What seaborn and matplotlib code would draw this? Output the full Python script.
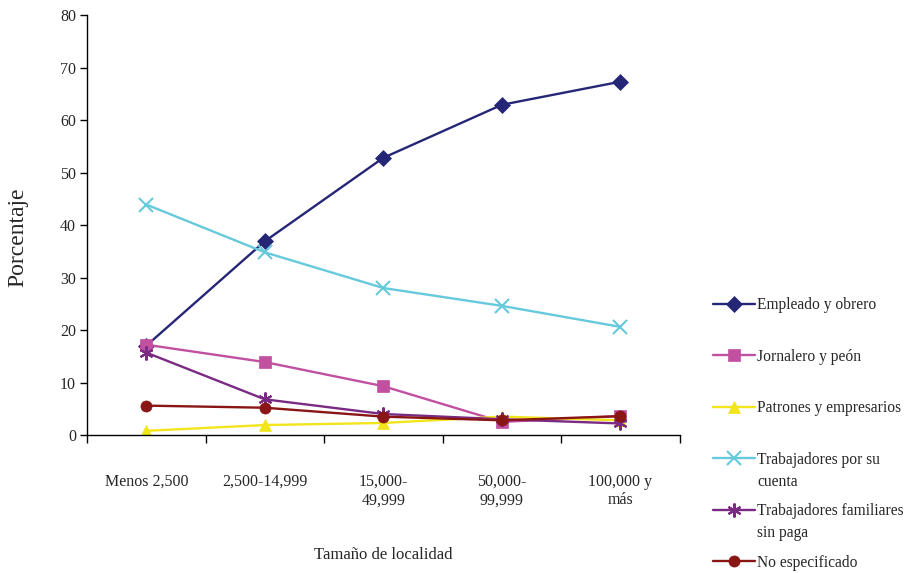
import pandas as pd
import seaborn as sns
import matplotlib.pyplot as plt

# tamaños de localidad
categorias = ['Menos 2,500', '2,500-14,999', '15,000-\n49,999', '50,000-\n99,999', '100,000 y\nmás']

empleado = [17.0, 36.9, 52.8, 62.9, 67.3]
jornalero = [17.2, 13.9, 9.3, 2.5, 3.6]
patrones = [0.8, 1.9, 2.3, 3.5, 2.8]
cuenta_propia = [43.9, 34.8, 28.0, 24.6, 20.6]
familiares = [15.7, 6.8, 4.0, 3.0, 2.2]
no_especificado = [5.6, 5.2, 3.5, 2.8, 3.6]

series = {
    'Empleado y obrero': empleado,
    'Jornalero y peón': jornalero,
    'Patrones y empresarios': patrones,
    'Trabajadores por su': cuenta_propia,
    'Trabajadores familiares': familiares,
    'No especificado': no_especificado,
}
# segunda línea de las etiquetas largas de la leyenda
segunda_linea = {'Trabajadores por su': 'cuenta', 'Trabajadores familiares': 'sin paga'}

colores = ['#262677', '#c150a0', '#f2e51c', '#66c9dc', '#7a2a82', '#8a1515']
marcadores = ['D', 's', '^', 'x', (6, 2, 0), 'o']
tamanos = [8, 8, 9, 10, 10, 8]

filas = []
for nombre, valores in series.items():
    for i, v in enumerate(valores):
        filas.append({'pos': i, 'valor': v, 'grupo': nombre})
df = pd.DataFrame(filas)

sns.set_theme(style='white')
plt.rcParams['font.family'] = ['Liberation Serif', 'DejaVu Serif']

fig = plt.figure(figsize=(9.09, 5.73), dpi=100)
ax = fig.add_axes([0.0957, 0.2408, 0.652, 0.733])

for (nombre, _), c, m, ms in zip(series.items(), colores, marcadores, tamanos):
    sub = df[df['grupo'] == nombre]
    sns.lineplot(data=sub, x='pos', y='valor', color=c, marker=m, markersize=ms,
                 markeredgecolor=c, markeredgewidth=1.5 if m in ('x',) or isinstance(m, tuple) else 0.5,
                 linewidth=1.7, label=nombre, ax=ax)

ax.set_xlim(-0.5, 4.5)
ax.set_ylim(0, 80)
ax.set_yticks(range(0, 81, 10))
ax.set_xticks([x - 0.5 for x in range(6)])
ax.set_xticklabels([])
ax.set_xticks(range(5), minor=True)
ax.set_xticklabels(categorias, minor=True, fontsize=11.5)
ax.tick_params(axis='x', which='major', direction='out', length=6, width=1, color='black', bottom=True)
ax.tick_params(axis='x', which='minor', length=0, pad=28)
ax.tick_params(axis='y', direction='out', length=5, width=1, color='black', left=True, labelsize=11.5, pad=3)

for s in ['top', 'right']:
    ax.spines[s].set_visible(False)
for s in ['left', 'bottom']:
    ax.spines[s].set_color('black')
    ax.spines[s].set_linewidth(1)

ax.set_xlabel('Tamaño de localidad', fontsize=12, labelpad=28)
ax.set_ylabel('Porcentaje', fontsize=17)
ax.yaxis.set_label_coords(-0.099, 0.47)

leg = ax.legend(loc='upper left', bbox_to_anchor=(1.045, 0.343), frameon=False, fontsize=11.2,
                handlelength=2.7, labelspacing=2.28, handletextpad=0.15, borderaxespad=0)
for t in leg.get_texts():
    extra = segunda_linea.get(t.get_text())
    if extra:
        ax.annotate(extra, xy=(0, 0), xycoords=t, xytext=(0, -4.5), textcoords='offset points',
                    ha='left', va='top', fontsize=11.2, annotation_clip=False, zorder=10)

fig.savefig('out.png', dpi=100)
